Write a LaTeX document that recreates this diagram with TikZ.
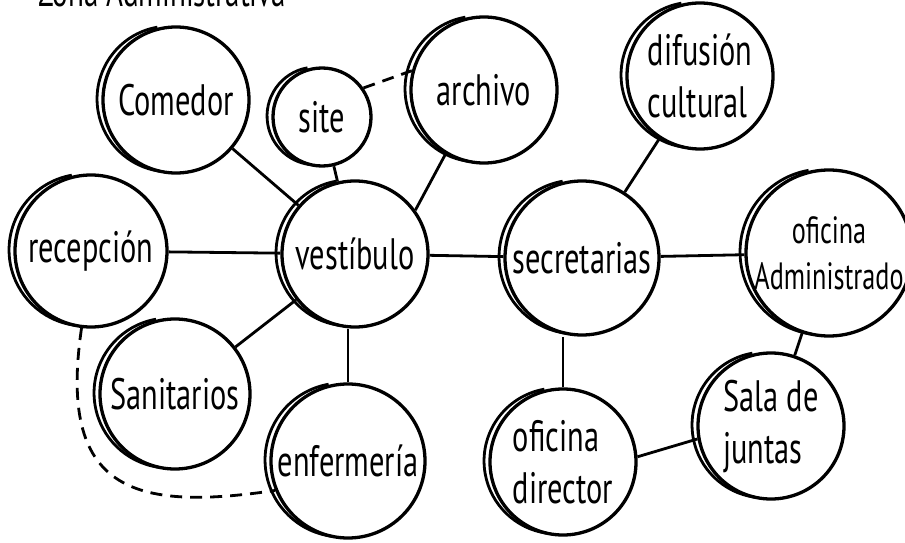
\documentclass[tikz,border=0pt]{standalone}
\usepackage{fontspec}
\setmainfont{PT Sans}[FakeStretch=0.69]
\usetikzlibrary{positioning,calc}

\begin{document}
\begin{tikzpicture}[
  x=1pt, y=1pt,
  room/.style={
    circle,
    draw,
    line width=3.3pt,
    minimum size=146pt,
    inner sep=0pt,
    align=left,
    font=\fontsize{44}{52}\selectfont
  },
  sketch/.style={line width=2.8pt},
  link/.style={line width=2.8pt},
  loose/.style={link,dash pattern=on 12pt off 8pt}
]
  \useasboundingbox (0,0) rectangle (905,542);
  \node[anchor=base west,font=\fontsize{42}{50}\selectfont] (titulo) at (35,535) {Zona Administrativa};

  \node[room] (comedor) at (176,442) {Comedor};
  \node[room,minimum size=98pt] (site) at (322,425) {site};
  \node[room] (archivo) at (484,452) {archivo};
  \node[room] (difusion) at (700,466) {difusión\\cultural};
  \node[room,minimum size=152pt] (recepcion) at (91,291) {recepción};
  \node[room] (vestibulo) at (355,288) {vestíbulo};
  \node[room,minimum size=154pt] (secretarias) at (582,284) {secretarias};
  \node[room,minimum size=152pt,align=center,font=\fontsize{38}{46}\selectfont] (oficina) at (829,289) {oficina\\Administrado};
  \node[room,minimum size=150pt] (sanitarios) at (175,148) {Sanitarios};
  \node[room,minimum size=154pt] (enfermeria) at (348,81) {enfermería};
  \node[room] (director) at (563,80) {oficina\\director};
  \node[room] (juntas) at (771,116) {Sala de\\juntas};

  \foreach \room in {comedor,site,archivo,difusion,recepcion,vestibulo,secretarias,oficina,sanitarios,enfermeria,director,juntas}
    \draw[sketch] let \p1=(\room.center), \p2=(\room.east), \n1={\x2-\x1-1.7pt} in
      ($(\room.center)+(-6pt,1pt)+(100:\n1)$) arc[start angle=100,end angle=262,radius=\n1];

  \draw[link] (comedor) -- (vestibulo);
  \draw[link] (site) -- (vestibulo);
  \draw[link] (vestibulo.36) -- (archivo.239);
  \draw[link] (recepcion) -- (vestibulo);
  \draw[link] (vestibulo) -- (secretarias);
  \draw[link] (vestibulo) -- (sanitarios);
  \draw[link] (enfermeria) -- (enfermeria |- vestibulo.south);
  \draw[link] (secretarias) -- (difusion);
  \draw[link] (secretarias) -- (oficina);
  \draw[link] (director) -- (director |- secretarias.south);
  \draw[link] (director.4) -- (juntas.190);
  \draw[link] (juntas) -- (oficina);
  \draw[loose] (site.35) -- (archivo.165);
  \draw[loose] (recepcion.263) .. controls +(-24,-163) and +(-142,-21) .. (enfermeria.202);
\end{tikzpicture}
\end{document}
